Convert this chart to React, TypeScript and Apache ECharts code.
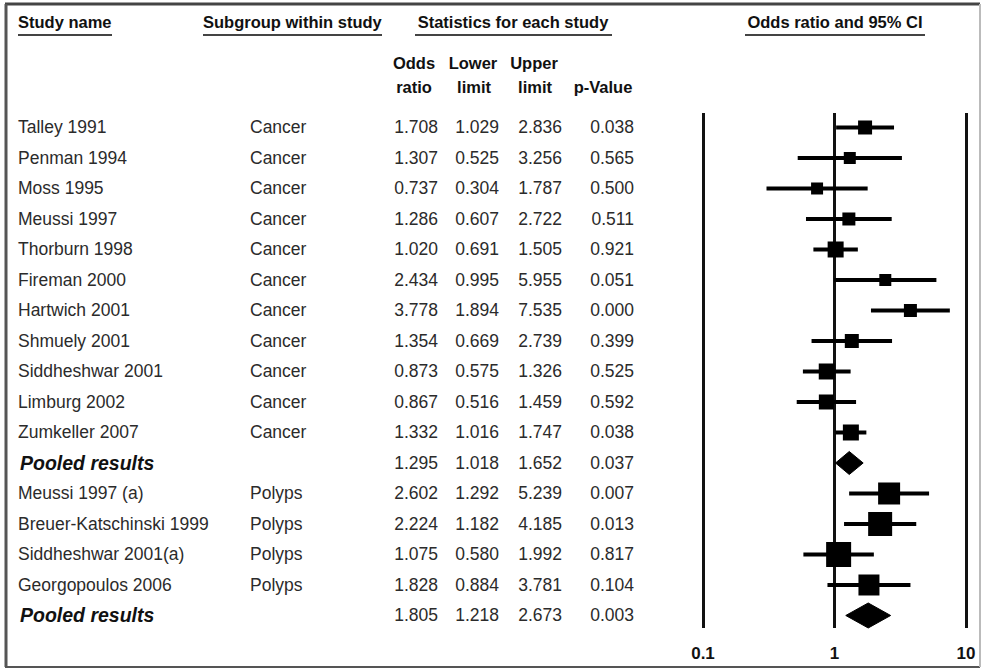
import React, { useEffect, useRef } from "react";
import * as echarts from "echarts";

const studyNames = [
  "Talley 1991", "Penman 1994", "Moss 1995", "Meussi 1997", "Thorburn 1998",
  "Fireman 2000", "Hartwich 2001", "Shmuely 2001", "Siddheshwar 2001", "Limburg 2002",
  "Zumkeller 2007", "Pooled results", "Meussi 1997 (a)", "Breuer-Katschinski 1999",
  "Siddheshwar 2001(a)", "Georgopoulos 2006", "Pooled results",
];
const subgroups = [
  "Cancer", "Cancer", "Cancer", "Cancer", "Cancer", "Cancer", "Cancer", "Cancer", "Cancer",
  "Cancer", "Cancer", "", "Polyps", "Polyps", "Polyps", "Polyps", "",
];
const oddsRatios = [1.708, 1.307, 0.737, 1.286, 1.02, 2.434, 3.778, 1.354, 0.873, 0.867, 1.332, 1.295, 2.602, 2.224, 1.075, 1.828, 1.805];
const lowerLimits = [1.029, 0.525, 0.304, 0.607, 0.691, 0.995, 1.894, 0.669, 0.575, 0.516, 1.016, 1.018, 1.292, 1.182, 0.58, 0.884, 1.218];
const upperLimits = [2.836, 3.256, 1.787, 2.722, 1.505, 5.955, 7.535, 2.739, 1.326, 1.459, 1.747, 1.652, 5.239, 4.185, 1.992, 3.781, 2.673];
const pValues = ["0.038", "0.565", "0.500", "0.511", "0.921", "0.051", "0.000", "0.399", "0.525", "0.592", "0.038", "0.037", "0.007", "0.013", "0.817", "0.104", "0.003"];
const isPooled = [0, 0, 0, 0, 0, 0, 0, 0, 0, 0, 0, 1, 0, 0, 0, 0, 1];
const markerSizes = [14, 12, 12, 13, 16, 12, 13, 14, 16, 15, 16, 23, 22, 24, 25, 21, 25];
const xTicks = [0.1, 1, 10];

const FONT = '"Liberation Sans", Arial, sans-serif';

function txt(text: string, x: number, y: number, align: string, opts: any = {}) {
  return {
    type: "text",
    x,
    y,
    style: {
      text,
      fill: opts.fill || "#2b2b2b",
      fontSize: opts.fontSize || 17.5,
      fontWeight: opts.fontWeight || "normal",
      fontStyle: opts.fontStyle || "normal",
      fontFamily: FONT,
      align,
      verticalAlign: "middle",
      textAlign: align,
      textVerticalAlign: "middle",
    },
  };
}

export default function App() {
  const ref = useRef<HTMLDivElement>(null);
  useEffect(() => {
    if (!ref.current) return;
    const chart = echarts.init(ref.current, undefined, { renderer: "svg" });

    const forestData = oddsRatios.map((v, i) => [v, lowerLimits[i], upperLimits[i], i, markerSizes[i], isPooled[i]]);
    const tableData = studyNames.map((_, i) => [1, i]);

    const hdr = (text: string, x: number, y: number, align: string) =>
      txt(text, x, y, align, { fontWeight: "bold", fontSize: 16.5, fill: "#111" });
    const uline = (x1: number, x2: number) => ({
      type: "line",
      shape: { x1, y1: 35, x2, y2: 35 },
      style: { stroke: "#444", lineWidth: 2 },
    });

    chart.setOption({
      animation: false,
      backgroundColor: "#fff",
      grid: { left: 703, top: 113, width: 263, height: 515 },
      xAxis: {
        type: "log",
        logBase: 10,
        min: 0.1,
        max: 10,
        axisLine: { show: false },
        axisTick: { show: false },
        splitLine: { show: true, lineStyle: { color: "#111", width: 3 } },
        axisLabel: {
          show: true,
          margin: 17,
          color: "#111",
          fontWeight: "bold",
          fontSize: 17,
          fontFamily: FONT,
          formatter: (v: number) => {
            const t = xTicks.find((k) => Math.abs(k - v) < 1e-9);
            return t === undefined ? "" : String(t);
          },
        },
      },
      yAxis: {
        type: "value",
        inverse: true,
        min: -0.475,
        max: 16.41,
        show: false,
        splitLine: { show: false },
      },
      graphic: [
        { type: "line", shape: { x1: 5, y1: 4, x2: 980, y2: 4 }, style: { stroke: "#444", lineWidth: 3 } },
        { type: "line", shape: { x1: 6, y1: 4, x2: 6, y2: 667 }, style: { stroke: "#555", lineWidth: 3 } },
        { type: "line", shape: { x1: 5, y1: 667, x2: 980, y2: 667 }, style: { stroke: "#555", lineWidth: 2 } },
        { type: "line", shape: { x1: 980, y1: 4, x2: 980, y2: 667 }, style: { stroke: "#bbb", lineWidth: 2 } },
        hdr("Study name", 18, 22, "left"),
        uline(18, 112),
        hdr("Subgroup within study", 203, 22, "left"),
        uline(203, 382),
        hdr("Statistics for each study", 513, 22, "center"),
        uline(415, 612),
        hdr("Odds ratio and 95% CI", 835, 22, "center"),
        uline(745, 925),
        hdr("Odds", 414, 63, "center"),
        hdr("ratio", 414, 87, "center"),
        hdr("Lower", 473, 63, "center"),
        hdr("limit", 474, 87, "center"),
        hdr("Upper", 534, 63, "center"),
        hdr("limit", 535, 87, "center"),
        hdr("p-Value", 603, 87, "center"),
      ],
      series: [
        {
          type: "custom",
          name: "table",
          data: tableData,
          encode: { x: 0, y: 1 },
          clip: false,
          silent: true,
          renderItem: (params: any, api: any) => {
            const i = params.dataIndex;
            const y = api.coord([1, i])[1];
            const pooled = isPooled[i] === 1;
            const children: any[] = [];
            if (pooled) {
              children.push(txt(studyNames[i], 20, y, "left", { fontWeight: "bold", fontStyle: "italic", fontSize: 19.5, fill: "#111" }));
            } else {
              children.push(txt(studyNames[i], 18, y, "left"));
              children.push(txt(subgroups[i], 250, y, "left"));
            }
            children.push(txt(oddsRatios[i].toFixed(3), 438, y, "right"));
            children.push(txt(lowerLimits[i].toFixed(3), 499, y, "right"));
            children.push(txt(upperLimits[i].toFixed(3), 562, y, "right"));
            children.push(txt(pValues[i], 634, y, "right"));
            return { type: "group", children };
          },
        },
        {
          type: "custom",
          name: "forest",
          data: forestData,
          dimensions: ["or", "lower", "upper", "row", "size", "pooled"],
          encode: { x: [0, 1, 2], y: 3 },
          clip: false,
          renderItem: (params: any, api: any) => {
            const row = api.value(3);
            const size = api.value(4);
            const pooled = api.value(5) === 1;
            const pOr = api.coord([api.value(0), row]);
            const pLo = api.coord([api.value(1), row]);
            const pHi = api.coord([api.value(2), row]);
            if (pooled) {
              const h = size / 2;
              return {
                type: "polygon",
                shape: {
                  points: [
                    [pLo[0], pOr[1]],
                    [pOr[0], pOr[1] - h],
                    [pHi[0], pOr[1]],
                    [pOr[0], pOr[1] + h],
                  ],
                },
                style: { fill: "#000", stroke: "#000", lineWidth: 1 },
              };
            }
            return {
              type: "group",
              children: [
                {
                  type: "line",
                  shape: { x1: pLo[0], y1: pOr[1], x2: pHi[0], y2: pOr[1] },
                  style: { stroke: "#000", lineWidth: 4 },
                },
                {
                  type: "rect",
                  shape: { x: pOr[0] - size / 2, y: pOr[1] - size / 2, width: size, height: size },
                  style: { fill: "#000" },
                },
              ],
            };
          },
        },
      ],
    });
    return () => chart.dispose();
  }, []);
  return (
    <div
      ref={ref}
      style={{ position: "fixed", left: 0, top: 0, width: 984, height: 669, background: "#fff" }}
    />
  );
}
